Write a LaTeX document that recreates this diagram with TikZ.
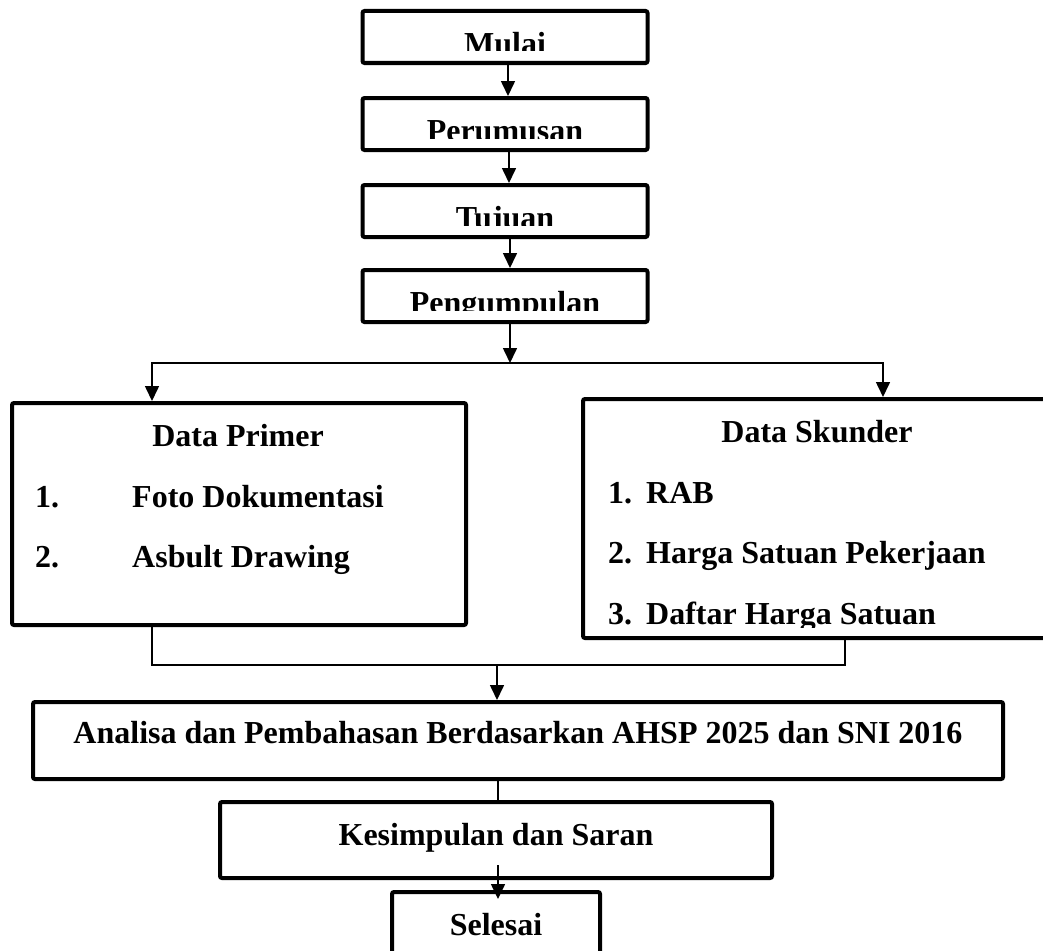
\documentclass[tikz,border=0pt]{standalone}
\usepackage{fontspec}
\setmainfont{Liberation Serif}
\usetikzlibrary{arrows.meta}

\begin{document}
\begin{tikzpicture}[x=1pt, y=-1pt]
    % --- Dimensions (sheet pixels, y grows downwards) ---
    \def\StepW{285}      % width of the small step boxes
    \def\StepH{52}       % height of the small step boxes
    \def\StepX{505}      % centre x of the step column
    \def\CutH{14}        % step text is cut this far above the box bottom
    \def\SplitY{363}     % y of the branch line
    \def\JoinY{665}      % y of the join line

    % --- Styles ---
    \tikzset{
        box/.style={draw, line width=4pt, rounded corners=2pt, inner sep=0pt},
        step box/.style={box, minimum width=\StepW pt, minimum height=\StepH pt},
        box text/.style={font=\fontsize{32}{38}\selectfont\bfseries, inner sep=0pt},
        link/.style={line width=1.6pt},
        flow/.style={link, -{Triangle[length=15pt, width=14pt]}}
    }

    % page frame (what sticks out is cut away)
    \path[use as bounding box, clip] (0,0) rectangle (1043,950);

    % =========================================================
    % 1) STEP BOXES (text cut at the bottom, as on the sheet)
    % =========================================================
    \foreach \nm/\cy/\txt in {mulai/37/Mulai, rumusan/124/Perumusan,
                              tujuan/211/Tujuan, kumpul/296/Pengumpulan} {
        \node[step box] (\nm) at (\StepX,\cy) {};
        \begin{scope}
            \clip (\nm.north west) rectangle ([yshift=\CutH pt]\nm.south east);
            \node[box text, anchor=base] (\nm-text) at ([yshift=-17.5pt]\nm.center) {\txt};
        \end{scope}
    }

    % =========================================================
    % 2) DATA BOXES
    % =========================================================
    % --- Data Primer ---
    \node[box, minimum width=454pt, minimum height=222pt] (primer) at (239,514) {};
    \node[box text, anchor=base] (primer-title) at (238,446) {Data Primer};
    \node[box text, anchor=base west] (primer-n1) at (35,507) {1.};
    \node[box text, anchor=base west] (primer-1) at (132,507) {Foto Dokumentasi};
    \node[box text, anchor=base west] (primer-n2) at (35,567) {2.};
    \node[box text, anchor=base west] (primer-2) at (132,567) {Asbult Drawing};

    % --- Data Skunder (runs off the right edge) ---
    \node[box, minimum width=468pt, minimum height=239pt] (skunder) at (817,518.5) {};
    \node[box text, anchor=base] (skunder-title) at (817,442) {Data Skunder};
    \node[box text, anchor=base west] (skunder-n1) at (608,503) {1.};
    \node[box text, anchor=base west] (skunder-1) at (646,503) {RAB};
    \node[box text, anchor=base west] (skunder-n2) at (608,563) {2.};
    \node[box text, anchor=base west] (skunder-2) at (646,563) {Harga Satuan Pekerjaan};
    \begin{scope}
        \clip (skunder.north west) rectangle ([yshift=13pt]skunder.south east);
        \node[box text, anchor=base west] (skunder-n3) at (608,624) {3.};
        \node[box text, anchor=base west] (skunder-3) at (646,624) {Daftar Harga Satuan};
    \end{scope}

    % =========================================================
    % 3) ANALYSIS AND END BOXES
    % =========================================================
    \node[box, minimum width=970pt, minimum height=77pt] (analisa) at (518,740.5) {};
    \node[box text, anchor=base] (analisa-text) at ([yshift=-2.5pt]analisa.center)
        {Analisa dan Pembahasan Berdasarkan AHSP 2025 dan SNI 2016};

    \node[box, minimum width=552pt, minimum height=76pt] (simpulan) at (496,840) {};
    \node[box text, anchor=base] (simpulan-text) at ([yshift=-5pt]simpulan.center)
        {Kesimpulan dan Saran};

    \node[box, minimum width=208pt, minimum height=93pt] (selesai) at (496,938.5) {};
    \node[box text, anchor=base] (selesai-text) at (496,935) {Selesai};

    % =========================================================
    % 4) CONNECTORS
    % =========================================================
    \draw[flow] ([xshift=3pt]mulai.south) -- ([xshift=3pt]rumusan.north);
    \draw[flow] ([xshift=4pt]rumusan.south) -- ([xshift=4pt]tujuan.north);
    \draw[flow] ([xshift=5pt]tujuan.south) -- ([xshift=5pt]kumpul.north);

    % branch to the two data boxes
    \coordinate (split) at (510,\SplitY);
    \coordinate (split-l) at (152,\SplitY);
    \coordinate (split-r) at (883,\SplitY);
    \draw[flow] (kumpul.south -| split) -- (split);
    \draw[flow] (split) -- (split-l) -- (split-l |- primer.north);
    \draw[flow] (split) -- (split-r) -- (split-r |- skunder.north);

    % join back into the analysis
    \coordinate (join-l) at (152,\JoinY);
    \coordinate (join-r) at (845,\JoinY);
    \coordinate (join) at (497,\JoinY);
    \draw[link] (join-l |- primer.south) -- (join-l) -- (join-r) -- (join-r |- skunder.south);
    \draw[flow] (join) -- (join |- analisa.north);

    \draw[link] ([xshift=2pt]simpulan.north |- analisa.south) -- ([xshift=2pt]simpulan.north);
    \draw[flow] ([xshift=2pt, yshift=15pt]simpulan.south) -- ([xshift=2pt, yshift=-9pt]selesai.north);

\end{tikzpicture}
\end{document}
